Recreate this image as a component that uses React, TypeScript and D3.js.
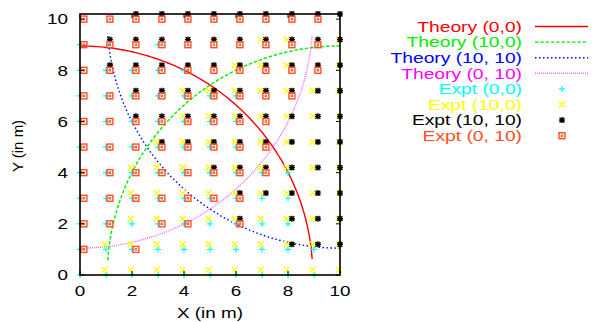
import React from "react";
import * as d3 from "d3";

// grid positions (x values) present in each row, index = y (0..10)
const cyanRows: number[][] = [
  [0, 1, 2, 3, 4, 5, 6, 7, 8, 9],
  [0, 1, 2, 3, 4, 5, 6, 7, 8, 9],
  [0, 1, 2, 3, 4, 5, 6, 7, 8],
  [0, 1, 2, 3, 4, 5, 6, 7, 8],
  [0, 1, 2, 3, 4, 5, 6, 7, 8],
  [0, 1, 2, 3, 4, 5, 6],
  [0, 1, 2, 3, 4, 5, 6],
  [0, 1, 2, 3, 4, 5, 6],
  [0, 1, 2, 3, 4],
  [0, 3],
  [],
];
const yellowRows: number[][] = [
  [1, 2, 3, 4, 5, 6, 7, 8, 9, 10],
  [1, 2, 3, 4, 5, 6, 7, 8, 9, 10],
  [2, 3, 4, 5, 6, 7, 8, 9, 10],
  [2, 3, 4, 5, 6, 7, 8, 9, 10],
  [2, 3, 4, 5, 6, 7, 8, 9, 10],
  [3, 4, 5, 6, 7, 8, 9, 10],
  [4, 5, 6, 7, 8, 9, 10],
  [4, 5, 6, 7, 8, 9, 10],
  [6, 7, 8, 10],
  [7, 8, 10],
  [],
];
const blackRows: number[][] = [
  [],
  [8, 9, 10],
  [6, 8, 9, 10],
  [6, 7, 8, 9, 10],
  [5, 6, 7, 8, 9, 10],
  [3, 4, 5, 6, 7, 8, 9, 10],
  [2, 3, 4, 5, 6, 7, 8, 9, 10],
  [2, 3, 4, 5, 6, 7, 8, 9, 10],
  [1, 2, 3, 4, 5, 6, 7, 8, 9, 10],
  [1, 2, 3, 4, 5, 6, 7, 8, 9, 10],
  [2, 3, 4, 5, 6, 7, 8, 9, 10],
];
const orangeRows: number[][] = [
  [],
  [0, 2],
  [0, 1, 3, 4, 6],
  [0, 1, 2, 3, 4, 5, 6],
  [0, 1, 2, 3, 4, 5, 6, 7],
  [0, 1, 2, 3, 4, 5, 6, 7],
  [0, 1, 2, 3, 4, 5, 6, 7],
  [0, 1, 2, 3, 4, 5, 6, 7, 8],
  [0, 1, 2, 3, 4, 5, 6, 7, 8, 9],
  [0, 1, 2, 3, 4, 5, 6, 7, 8, 9],
  [0, 1, 2, 3, 4, 5, 6, 7, 8, 9],
];

// theory circles: centre, radius, start/end angle (deg)
const theory = [
  { name: "Theory (0,0)", cx: 0, cy: 0, r: 8.95, a0: 90, a1: 4, color: "#ff0000", dash: "none", op: 1 },
  { name: "Theory (10,0)", cx: 10, cy: 0, r: 8.95, a0: 90, a1: 176.5, color: "#00ee00", dash: "3.5,1.8", op: 1 },
  { name: "Theory (10, 10)", cx: 10, cy: 10, r: 8.95, a0: 270, a1: 183.6, color: "#0000ff", dash: "1.5,2.5", op: 1 },
  { name: "Theory (0, 10)", cx: 0, cy: 10, r: 8.95, a0: 270, a1: 356, color: "#ff00ff", dash: "1,1", op: 0.6 },
];

const expt = [
  { name: "Expt (0,0)", rows: cyanRows, dx: 0, dy: 0, color: "#00ffff", shape: "plus" },
  { name: "Expt (10,0)", rows: yellowRows, dx: -0.05, dy: 0.2, color: "#ffff00", shape: "cross" },
  { name: "Expt (10, 10)", rows: blackRows, dx: 0.15, dy: 0.2, color: "#000000", shape: "star" },
  { name: "Expt (0, 10)", rows: orangeRows, dx: 0.15, dy: 0, color: "#ff5020", shape: "box" },
];

const xTicks = [0, 2, 4, 6, 8, 10];
const yTicks = [0, 2, 4, 6, 8, 10];

const FONT = "'Liberation Sans', Arial, sans-serif";
const SX = 1.3;

function Marker({ x, y, shape, color }: { x: number; y: number; shape: string; color: string }) {
  const s = 3;
  if (shape === "plus")
    return <path d={`M${x - s},${y}H${x + s}M${x},${y - s}V${y + s}`} stroke={color} strokeWidth={1.2} />;
  if (shape === "cross")
    return <path d={`M${x - s},${y - s}L${x + s},${y + s}M${x - s},${y + s}L${x + s},${y - s}`} stroke={color} strokeWidth={1.3} />;
  if (shape === "star")
    return (
      <path
        d={`M${x - s},${y}H${x + s}M${x},${y - s}V${y + s}M${x - s + 0.6},${y - s + 0.6}L${x + s - 0.6},${y + s - 0.6}M${x - s + 0.6},${y + s - 0.6}L${x + s - 0.6},${y - s + 0.6}`}
        stroke={color}
        strokeWidth={1.4}
      />
    );
  return (
    <g fill="none" stroke={color}>
      <rect x={x - 3} y={y - 3} width={6} height={6} strokeWidth={1.4} />
      <rect x={x - 0.8} y={y - 0.8} width={1.6} height={1.6} strokeWidth={0.9} />
    </g>
  );
}

export default function App() {
  const xs = d3.scaleLinear().domain([0, 10]).range([80, 340]);
  const ys = d3.scaleLinear().domain([0, 10.2]).range([275, 14]);
  const line = d3
    .line<[number, number]>()
    .x((d) => xs(d[0]))
    .y((d) => ys(d[1]));

  const arcPath = (t: (typeof theory)[number]) => {
    const pts: [number, number][] = d3.range(0, 121).map((i) => {
      const a = ((t.a0 + ((t.a1 - t.a0) * i) / 120) * Math.PI) / 180;
      return [t.cx + t.r * Math.cos(a), t.cy + t.r * Math.sin(a)];
    });
    return line(pts) || "";
  };

  const legendY = (i: number) => 26.5 + i * 15.6;

  return (
    <svg
      width={592}
      height={322}
      style={{ position: "absolute", left: 0, top: 0, background: "#fff" }}
      fontFamily={FONT}
    >
      {/* theory curves */}
      {theory.map((t) => (
        <path
          key={t.name}
          d={arcPath(t)}
          fill="none"
          stroke={t.color}
          strokeWidth={1.4}
          strokeDasharray={t.dash}
          opacity={t.op}
        />
      ))}

      {/* experimental points */}
      {expt.map((e) => (
        <g key={e.name}>
          {e.rows.flatMap((row, yi) =>
            row.map((xi) => (
              <Marker
                key={`${xi}-${yi}`}
                x={xs(Math.min(10, xi + e.dx))}
                y={ys(yi + e.dy)}
                shape={e.shape}
                color={e.color}
              />
            ))
          )}
        </g>
      ))}

      {/* frame */}
      <rect x={80} y={14} width={260} height={261} fill="none" stroke="#000" strokeWidth={1.6} />

      {/* ticks */}
      {xTicks.map((v) => (
        <g key={"xt" + v}>
          <line x1={xs(v)} x2={xs(v)} y1={275} y2={271} stroke="#000" />
          <line x1={xs(v)} x2={xs(v)} y1={14} y2={18} stroke="#000" />
          <text
            transform={`translate(${xs(v)},296) scale(${SX},1)`}
            textAnchor="middle"
            fontSize={14.5}
          >
            {v}
          </text>
        </g>
      ))}
      {yTicks.map((v) => (
        <g key={"yt" + v}>
          <line x1={80} x2={84} y1={ys(v)} y2={ys(v)} stroke="#000" />
          <line x1={340} x2={336} y1={ys(v)} y2={ys(v)} stroke="#000" />
          <text
            transform={`translate(68,${ys(v) + 5.3}) scale(${SX},1)`}
            textAnchor="end"
            fontSize={14.5}
          >
            {v}
          </text>
        </g>
      ))}

      {/* axis titles */}
      <text transform={`translate(210,318) scale(${SX},1)`} textAnchor="middle" fontSize={14.5}>
        X (in m)
      </text>
      <text transform="translate(23,146) rotate(-90)" textAnchor="middle" fontSize={15}>
        Y (in m)
      </text>

      {/* legend */}
      {theory.map((t, i) => (
        <g key={"lt" + i}>
          <text
            transform={`translate(522,${legendY(i) + 5.3}) scale(${SX},1)`}
            textAnchor="end"
            fontSize={14.8}
            fill={t.color}
          >
            {t.name}
          </text>
          <line
            x1={535}
            x2={588}
            y1={legendY(i)}
            y2={legendY(i)}
            stroke={t.color}
            strokeWidth={1.4}
            strokeDasharray={t.dash}
            opacity={t.op}
          />
        </g>
      ))}
      {expt.map((e, i) => (
        <g key={"le" + i}>
          <text
            transform={`translate(522,${legendY(i + 4) + 5.3}) scale(${SX},1)`}
            textAnchor="end"
            fontSize={14.8}
            fill={e.color}
          >
            {e.name}
          </text>
          <Marker x={562} y={legendY(i + 4)} shape={e.shape} color={e.color} />
        </g>
      ))}
    </svg>
  );
}
